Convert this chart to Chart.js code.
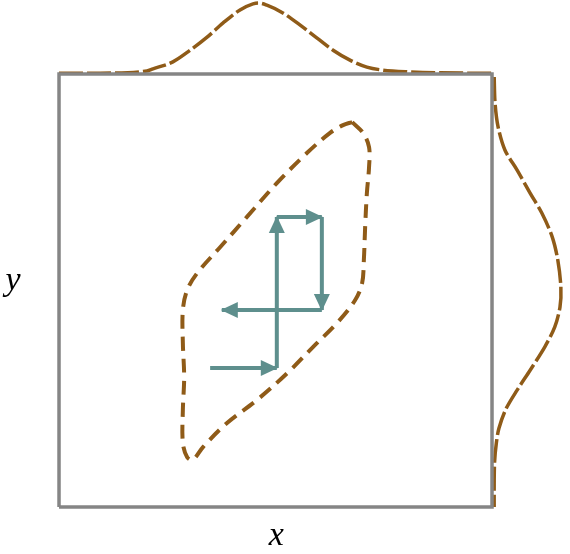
<!DOCTYPE html>
<html>
<head>
<meta charset="utf-8">
<script src="https://cdn.jsdelivr.net/npm/chart.js@4"></script>
<style>
  html, body { margin: 0; padding: 0; background: #fff; }
  #wrap { width: 570px; height: 554px; }
</style>
</head>
<body>
<div id="wrap"><canvas id="myChart"></canvas></div>
<script>
// box is 0..100 on both axes
const boxX = [0, 100, 100, 0, 0];
const boxY = [0, 0, 100, 100, 0];

// marginal of x (drawn above the box)
const topX = [0, 9.5, 20.3, 21.7, 26.3, 30.3, 34.2, 37.9, 41.8, 44.8, 46.0, 48.0, 51.7, 55.7, 59.6, 63.3, 67.2, 71.1, 74.8, 80.4, 95.6, 100];
const topY = [100.2, 100.2, 100.7, 101.2, 102.8, 105.5, 108.5, 111.8, 114.8, 116.2, 116.4, 115.9, 114.1, 111.3, 108.3, 105.5, 103.2, 101.6, 100.9, 100.5, 100.2, 100.2];

// marginal of y (drawn right of the box)
const rightX = [100.5, 100.7, 101.4, 103.0, 105.8, 108.8, 111.5, 113.9, 115.2, 115.9, 115.7, 114.5, 112.2, 108.8, 105.8, 103.2, 101.6, 101.0, 100.6, 100.5, 100.5];
const rightY = [99.3, 93.3, 87.8, 82.4, 77.8, 72.5, 67.9, 62.4, 57.0, 50.8, 46.2, 41.6, 37.0, 31.6, 27.0, 22.6, 18.2, 14.8, 10.5, 5.5, 0];

// joint density contour
const contourX = [67.7, 70.2, 71.6, 71.6, 71.1, 70.7, 70.4, 70.0, 68.4, 64.2, 58.7, 52.7, 45.7, 38.8, 33.3, 30.9, 29.6, 28.6, 28.6, 28.9, 28.6, 28.6, 29.6, 31.9, 37.2, 43.4, 50.3, 57.3, 62.6, 65.6, 67.7];
const contourY = [88.9, 86.4, 83.1, 78.5, 72.5, 64.7, 57.0, 51.7, 47.8, 42.5, 37.0, 30.9, 24.7, 19.4, 13.9, 10.9, 11.5, 14.8, 22.4, 30.0, 37.9, 45.5, 50.1, 54.0, 60.0, 67.0, 74.8, 81.8, 86.4, 88.2, 88.9];

// sampler path, one arrow per step
const pathX = [34.9, 50.3, 50.3, 60.7, 60.7, 37.6];
const pathY = [32.1, 32.1, 67.0, 67.0, 45.5, 45.5];

const axisLabels = ["x", "y"];

const brown = "#8f5b18";
const teal = "#5e8f8d";
const grey = "#858585";

const toPts = (xs, ys) => xs.map((v, i) => ({ x: v, y: ys[i] }));

const datasets = [
  {
    data: toPts(boxX, boxY),
    borderColor: grey,
    borderWidth: 3.5,
    borderJoinStyle: "miter",
    showLine: true,
    pointRadius: 0,
  },
  {
    data: toPts(topX, topY),
    borderColor: brown,
    borderWidth: 3.5,
    borderDash: [24, 4],
    showLine: true,
    cubicInterpolationMode: "monotone",
    pointRadius: 0,
  },
  {
    data: toPts(rightX, rightY),
    borderColor: brown,
    borderWidth: 3.5,
    borderDash: [24, 4],
    showLine: true,
    tension: 0.3,
    pointRadius: 0,
  },
  {
    data: toPts(contourX, contourY),
    borderColor: brown,
    borderWidth: 4,
    borderDash: [14, 8],
    showLine: true,
    tension: 0.35,
    pointRadius: 0,
  },
];

for (let i = 0; i < pathX.length - 1; i++) {
  datasets.push({
    data: [{ x: pathX[i], y: pathY[i] }, { x: pathX[i + 1], y: pathY[i + 1] }],
    borderColor: teal,
    borderWidth: 4,
    showLine: true,
    pointRadius: 0,
    arrow: true,
  });
}

const arrowHeads = {
  id: "arrowHeads",
  afterDatasetsDraw(chart) {
    const ctx = chart.ctx;
    const xs = chart.scales.x;
    const ys = chart.scales.y;
    chart.data.datasets.forEach((ds) => {
      if (!ds.arrow) return;
      const a = ds.data[0];
      const b = ds.data[1];
      const x0 = xs.getPixelForValue(a.x), y0 = ys.getPixelForValue(a.y);
      const x1 = xs.getPixelForValue(b.x), y1 = ys.getPixelForValue(b.y);
      ctx.save();
      ctx.translate(x1, y1);
      ctx.rotate(Math.atan2(y1 - y0, x1 - x0));
      ctx.beginPath();
      ctx.moveTo(1, 0);
      ctx.lineTo(-16, -8);
      ctx.lineTo(-16, 8);
      ctx.closePath();
      ctx.fillStyle = ds.borderColor;
      ctx.fill();
      ctx.restore();
    });
  },
};

const axisText = {
  id: "axisText",
  afterDraw(chart) {
    const ctx = chart.ctx;
    const xs = chart.scales.x;
    const ys = chart.scales.y;
    ctx.save();
    ctx.fillStyle = "#000";
    ctx.font = "italic 34px 'Liberation Serif', serif";
    ctx.textAlign = "center";
    ctx.textBaseline = "alphabetic";
    ctx.fillText(axisLabels[0], xs.getPixelForValue(50.2), ys.getPixelForValue(-8.8));
    ctx.fillText(axisLabels[1], xs.getPixelForValue(-10.6), ys.getPixelForValue(50.2));
    ctx.restore();
  },
};

const ctx = document.getElementById("myChart").getContext("2d");
const myChart = new Chart(ctx, {
  type: "scatter",
  data: { datasets: datasets },
  options: {
    responsive: true,
    maintainAspectRatio: false,
    animation: false,
    layout: { padding: 0 },
    plugins: { legend: { display: false }, tooltip: { enabled: false } },
    scales: {
      x: { display: false, min: -13.63, max: 118.01 },
      y: { display: false, min: -10.85, max: 117.09 },
    },
  },
  plugins: [arrowHeads, axisText],
});
</script>
</body>
</html>
